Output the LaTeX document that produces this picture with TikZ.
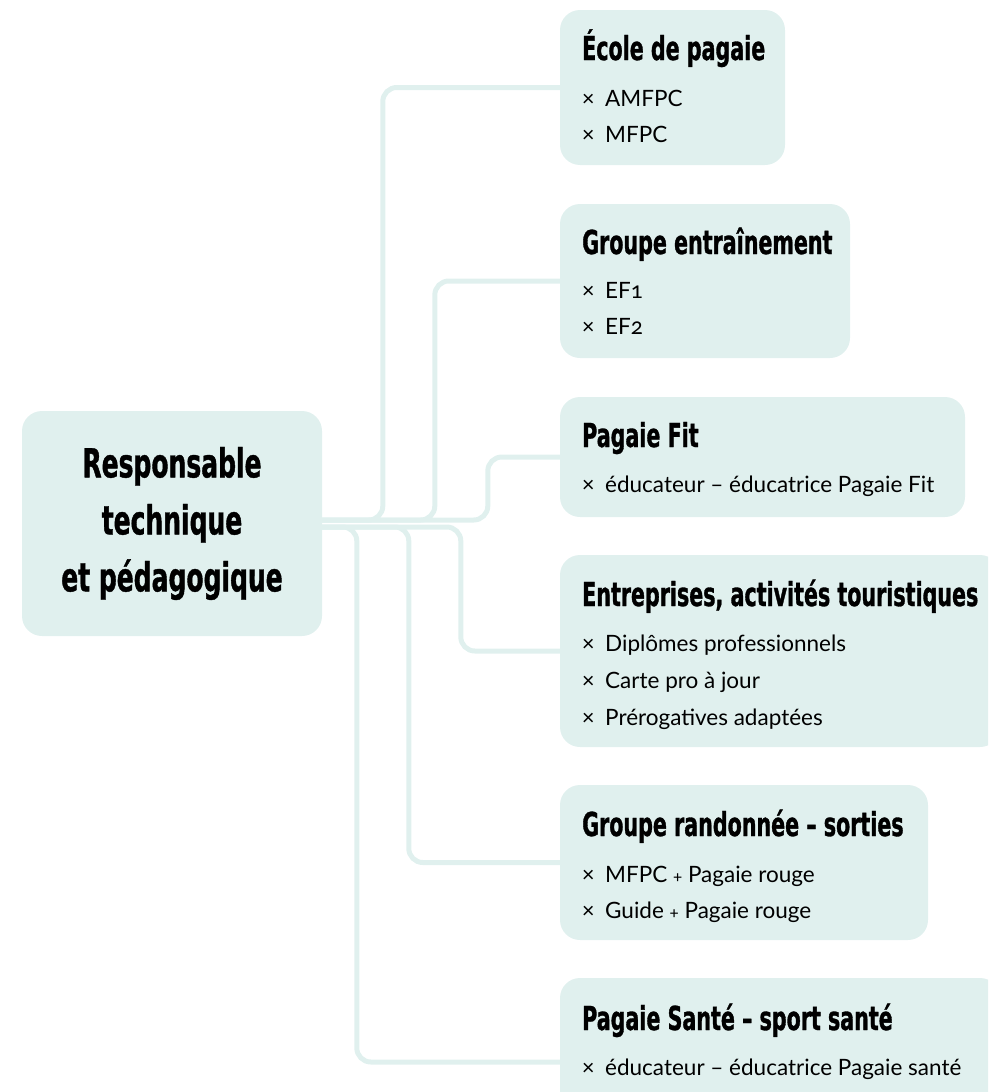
\documentclass[tikz,border=0pt]{standalone}
\usepackage{fontspec}
\setmainfont{Lato}[Numbers=OldStyle]
\newfontfamily\titrefont{DejaVu Sans}[FakeStretch=0.625,FakeBold=1]
\definecolor{menthe}{RGB}{224,240,238}
\tikzset{
  boite/.style={rectangle, rounded corners=20pt, fill=menthe, inner sep=0pt},
  lien/.style={draw=menthe, line width=5pt, rounded corners=14pt},
  titre/.style={anchor=base west, inner sep=0pt, font=\titrefont\bfseries\fontsize{33}{33}\selectfont},
  puce/.style={anchor=base west, inner sep=0pt, font=\fontsize{22.5}{22.5}\selectfont}
}
\newcommand{\croix}{\makebox[23pt][l]{\raisebox{1pt}{\fontsize{23}{23}\selectfont ×}}}
\newcommand{\plus}{{\fontsize{17}{17}\selectfont +}}

\begin{document}
\begin{tikzpicture}[x=1pt,y=-1pt]
\useasboundingbox (0,0) rectangle (988,1092);
\clip (0,0) rectangle (988,1092);
% draws boxes
\node[boite, minimum width=300pt, minimum height=225pt, align=center,
  font=\titrefont\bfseries\fontsize{40}{57}\selectfont] (resp) at (172,523.5)
  {Responsable\\technique\\et pédagogique};
\node[boite, minimum width=225pt, minimum height=155pt] (ecole) at (672.5,87.5) {};
\node[boite, minimum width=290pt, minimum height=154pt] (entr) at (705,281) {};
\node[boite, minimum width=405pt, minimum height=120pt] (fit) at (762.5,457) {};
\node[boite, minimum width=440pt, minimum height=192pt] (pro) at (780,651) {};
\node[boite, minimum width=368pt, minimum height=155pt] (rando) at (744,862.5) {};
\node[boite, minimum width=440pt, minimum height=168pt] (sante) at (780,1062) {};
% labels boxes
\node[titre] (ecole-t) at (582,60) {École de pagaie};
\node[puce] (ecole-1) at (582,106) {\croix AMFPC};
\node[puce] (ecole-2) at (582,142) {\croix MFPC};
\node[titre] (entr-t) at (582,254) {Groupe entraînement};
\node[puce] (entr-1) at (582,298) {\croix EF1};
\node[puce] (entr-2) at (582,334) {\croix EF2};
\node[titre] (fit-t) at (582,447) {Pagaie Fit};
\node[puce] (fit-1) at (582,492) {\croix éducateur – éducatrice Pagaie Fit};
\node[titre] (pro-t) at (582,606) {Entreprises, activités touristiques};
\node[puce] (pro-1) at (582,651) {\croix Diplômes professionnels};
\node[puce] (pro-2) at (582,688) {\croix Carte pro à jour};
\node[puce] (pro-3) at (582,725) {\croix Prérogatives adaptées};
\node[titre] (rando-t) at (582,836) {Groupe randonnée – sorties};
\node[puce] (rando-1) at (582,882) {\croix MFPC \plus\ Pagaie rouge};
\node[puce] (rando-2) at (582,918) {\croix Guide \plus\ Pagaie rouge};
\node[titre] (sante-t) at (582,1030) {Pagaie Santé – sport santé};
\node[puce] (sante-1) at (582,1075) {\croix éducateur – éducatrice Pagaie santé};
% draws connectors
\draw[lien] ([yshift=3.5pt]resp.east) -| ([xshift=-177pt]ecole.west) -- (ecole.west);
\draw[lien] ([yshift=3.5pt]resp.east) -| ([xshift=-125pt]entr.west) -- (entr.west);
\draw[lien] ([yshift=3.5pt]resp.east) -| ([xshift=-72pt]fit.west) -- (fit.west);
\draw[lien] ([yshift=-3.5pt]resp.east) -| ([xshift=-99pt]pro.west) -- (pro.west);
\draw[lien] ([yshift=-3.5pt]resp.east) -| ([xshift=-151pt]rando.west) -- (rando.west);
\draw[lien] ([yshift=-3.5pt]resp.east) -| ([xshift=-203pt]sante.west) -- (sante.west);
\end{tikzpicture}
\end{document}
